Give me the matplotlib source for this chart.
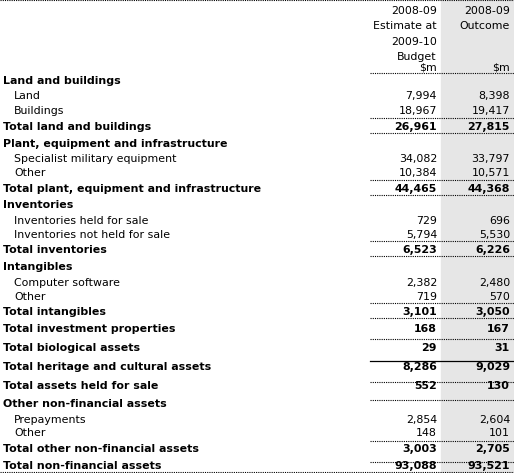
import matplotlib
matplotlib.use("Agg")
import matplotlib.pyplot as plt

labels = ["Land and buildings", "Land", "Buildings", "Total land and buildings",
          "Plant, equipment and infrastructure", "Specialist military equipment", "Other",
          "Total plant, equipment and infrastructure",
          "Inventories", "Inventories held for sale", "Inventories not held for sale", "Total inventories",
          "Intangibles", "Computer software", "Other", "Total intangibles",
          "Total investment properties", "Total biological assets",
          "Total heritage and cultural assets", "Total assets held for sale",
          "Other non-financial assets", "Prepayments", "Other",
          "Total other non-financial assets", "Total non-financial assets"]
kinds = ["h", "i", "i", "t", "h", "i", "i", "t", "h", "i", "i", "t", "h", "i", "i", "t",
         "t", "t", "t", "t", "h", "i", "i", "t", "t"]
estimate = ["", "7,994", "18,967", "26,961", "", "34,082", "10,384", "44,465",
            "", "729", "5,794", "6,523", "", "2,382", "719", "3,101",
            "168", "29", "8,286", "552", "", "2,854", "148", "3,003", "93,088"]
outcome = ["", "8,398", "19,417", "27,815", "", "33,797", "10,571", "44,368",
           "", "696", "5,530", "6,226", "", "2,480", "570", "3,050",
           "167", "31", "9,029", "130", "", "2,604", "101", "2,705", "93,521"]
header1 = ["2008-09", "Estimate at", "2009-10", "Budget", "$m"]
header2 = ["2008-09", "Outcome", "", "", "$m"]

ys = [81, 96, 111, 127, 144, 159, 173, 189, 205, 221, 235, 250, 267, 283, 297, 312,
      329, 348, 367, 386, 404, 420, 433, 449, 466]
hy = [11, 26, 42, 57, 68]

W, H = 514, 473
fig = plt.figure(figsize=(W / 100, H / 100), dpi=100)
ax = fig.add_axes([0, 0, 1, 1])
ax.set_xlim(0, W)
ax.set_ylim(H, 0)
ax.axis("off")
ax.axvspan(441, 514, color="#e6e6e6", zorder=0)

fam = ["DejaVu Sans"]
fs = 7.9
x1, x2 = 437, 510
for y, a, b in zip(hy, header1, header2):
    ax.text(x1, y, a, ha="right", va="center", fontsize=fs, family=fam)
    ax.text(x2, y, b, ha="right", va="center", fontsize=fs, family=fam)

for lab, k, y, e, o in zip(labels, kinds, ys, estimate, outcome):
    bold = k in ("h", "t")
    x = 14 if k == "i" else 3
    w = "bold" if bold else "normal"
    ax.text(x, y, lab, ha="left", va="center", fontsize=fs, family=fam, weight=w)
    ax.text(x1, y, e, ha="right", va="center", fontsize=fs, family=fam, weight=w)
    ax.text(x2, y, o, ha="right", va="center", fontsize=fs, family=fam, weight=w)

dot = dict(color="black", lw=0.8, linestyle=(0, (1, 1)))
ax.plot([0, W], [0.5, 0.5], **dot)
for y in [73, 118, 133, 180, 195, 241, 256, 303, 318, 339, 382, 400, 441, 462]:
    ax.plot([370, W], [y, y], **dot)
ax.plot([370, W], [361, 361], color="black", lw=0.9)
ax.plot([0, W], [472, 472], **dot)

fig.savefig("out.png", dpi=100)
